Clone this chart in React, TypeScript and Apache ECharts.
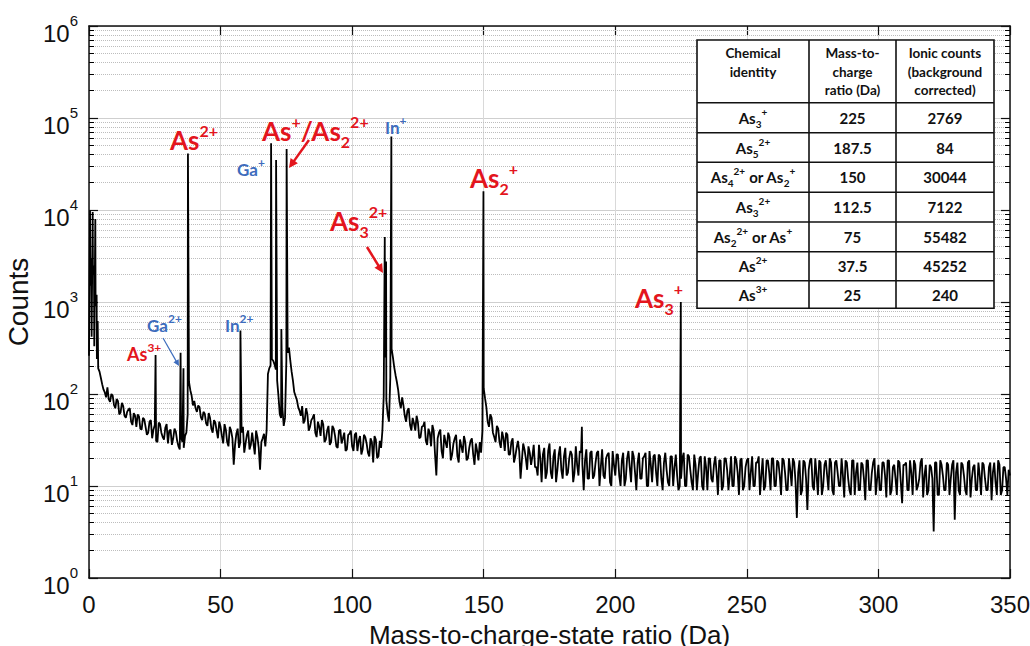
import React, { useEffect, useRef } from 'react';
import * as echarts from 'echarts';

// Background spectrum sampled at whole Da, 0 .. 350 Da (counts)
const bgStartMass = 0;
const bgStepMass = 1;
const bgCounts: number[] = [
  260, 420, 330, 240, 175, 128, 104, 118, 82, 96,
  70, 84, 63, 74, 55, 68, 50, 62, 44, 57,
  41, 53, 36, 50, 33, 46, 30, 47, 34, 43,
  29, 41, 33, 39, 27, 34, 26, 38, 135, 96,
  84, 64, 72, 52, 61, 45, 55, 38, 49, 33,
  44, 29, 41, 27, 40, 17, 37, 26, 38, 23,
  36, 25, 38, 22, 34, 15, 33, 27, 165, 205,
  230, 185, 95, 55, 45, 230, 320, 175, 105, 86,
  66, 74, 52, 60, 44, 55, 38, 50, 35, 47,
  32, 45, 30, 42, 27, 40, 29, 38, 25, 37,
  27, 36, 24, 35, 25, 34, 23, 33, 18, 32,
  21, 26, 95, 85, 50, 310, 195, 135, 82, 92,
  58, 66, 46, 55, 40, 49, 34, 45, 31, 42,
  27, 40, 13, 38, 24, 36, 26, 34, 22, 33,
  21, 32, 23, 30, 20, 31, 22, 29, 19, 23,
  115, 72, 44, 55, 34, 45, 30, 39, 24, 36,
  22, 33, 21, 31, 12, 29, 20, 27, 17, 28,
  16, 28, 11, 26, 14, 29, 12, 25, 15, 27,
  12, 26, 14, 24, 11, 27, 13, 23, 9, 25,
  12, 24, 13, 23, 10, 25, 12, 22, 11, 24,
  13, 22, 10, 23, 12, 24, 11, 21, 9, 23,
  12, 21, 10, 24, 11, 22, 10, 21, 9, 23,
  11, 21, 10, 22, 9, 12, 23, 10, 21, 11,
  22, 9, 20, 10, 21, 9, 20, 11, 21, 8,
  19, 10, 20, 9, 21, 10, 19, 8, 20, 10,
  19, 9, 21, 10, 18, 8, 20, 10, 19, 9,
  20, 10, 18, 8, 19, 9, 20, 10, 18, 4.5,
  19, 9, 18, 5.5, 19, 10, 20, 8, 18, 10,
  19, 9, 18, 8, 19, 10, 20, 7.5, 18, 9,
  19, 8, 18, 9, 17, 7, 19, 9, 18, 8,
  17, 9, 18, 7.5, 19, 9, 17, 8, 18, 6.5,
  17, 9, 19, 8, 17, 10, 18, 7.5, 17, 9,
  16, 3.2, 18, 8, 17, 9, 18, 8, 17, 4.3,
  18, 8, 17, 9, 18, 7.5, 16, 9, 18, 8,
  17, 9, 16, 7, 18, 8, 17, 9, 16, 8,
  13,
];

// Background at the half-Da points 0.5 .. 349.5 (counts)
const bgHalfCounts: number[] = [
  1500, 2000, 900, 190, 150, 112, 92, 88, 100, 76,
  88, 60, 80, 58, 64, 70, 46, 58, 60, 42,
  55, 44, 38, 52, 41, 31, 49, 38, 32, 47,
  40, 28, 42, 31, 25, 30, 35, 60, 110, 75,
  70, 75, 56, 64, 48, 62, 42, 52, 40, 50,
  35, 47, 30, 44, 33, 28, 42, 30, 44, 29,
  40, 28, 29, 40, 26, 30, 37, 40, 190, 240,
  210, 140, 60, 70, 55, 280, 230, 140, 95, 72,
  58, 48, 70, 40, 52, 60, 34, 44, 52, 30,
  40, 28, 45, 35, 26, 41, 33, 24, 36, 40,
  24, 38, 31, 22, 36, 29, 21, 30, 35, 20,
  31, 40, 250, 60, 150, 250, 160, 110, 70, 75,
  50, 70, 40, 48, 58, 33, 44, 50, 28, 38,
  46, 22, 33, 41, 20, 30, 38, 19, 29, 36,
  18, 27, 35, 19, 26, 33, 17, 24, 30, 40,
  90, 50, 60, 38, 30, 42, 26, 33, 38, 22,
  30, 18, 26, 24, 19, 25, 15, 23, 21, 16,
  13, 20, 22, 12, 24, 14, 21, 11, 22, 15,
  21, 13, 20, 22, 14, 17, 24, 17, 19, 12,
  23, 12, 18, 24, 16, 13, 20, 23, 10, 17,
  22, 13, 19, 10, 20, 16, 24, 14, 18, 12,
  20, 23, 10, 17, 21, 14, 22, 12, 18, 15,
  10, 21, 16, 13, 10, 20, 10, 22, 15, 9,
  17, 14, 21, 9, 16, 20, 12, 17, 14, 19,
  9, 20, 15, 13, 10, 21, 14, 19, 9, 16,
  20, 14, 10, 18, 21, 13, 9, 19, 14, 20,
  10, 19, 13, 20, 14, 9, 15, 20, 11, 14,
  8, 19, 12, 15, 20, 9, 13, 19, 8, 17,
  13, 20, 9, 18, 14, 10, 13, 19, 12, 8,
  19, 14, 9, 18, 12, 19, 9, 14, 20, 12,
  9, 18, 13, 19, 8, 16, 12, 19, 11, 17,
  18, 9, 14, 19, 9, 12, 20, 13, 8, 17,
  12, 18, 8, 19, 13, 9, 17, 12, 19, 14,
  9, 18, 13, 8, 19, 12, 17, 9, 13, 18,
  12, 9, 18, 14, 11, 19, 8, 16, 12, 15,
];

// Peaks between the samples
const peakMass: number[] = [0.4, 0.9, 1.4, 1.9, 2.4, 2.9, 3.3, 25.3, 34.8, 35.9, 37.6, 57.55, 69.2, 71.1, 73.1, 75.1, 112.4, 112.9, 114.9, 149.9, 187.3, 224.9];
const peakCounts: number[] = [9800, 3000, 9500, 2500, 8000, 1200, 620, 265, 280, 190, 41000, 490, 53000, 35000, 510, 46000, 5100, 2750, 63000, 16000, 44, 1000];

// Axis ticks
const xTicks: number[] = [0, 50, 100, 150, 200, 250, 300, 350];
const yDecades: number[] = [1, 10, 100, 1000, 10000, 100000, 1000000];
const minorMultipliers: number[] = [2, 3, 4, 5, 6, 7, 8, 9];

// Table
const tableHeaders: string[] = ['Chemical\nidentity', 'Mass-to-\ncharge\nratio (Da)', 'Ionic counts\n(background\ncorrected)'];
const tableIdentity: string[] = [
  '{b|As}{s|3}{p|+}',
  '{b|As}{s|5}{p|2+}',
  '{b|As}{s|4}{p|2+}{b| or As}{s|2}{p|+}',
  '{b|As}{s|3}{p|2+}',
  '{b|As}{s|2}{p|2+}{b| or As}{p|+}',
  '{b|As}{p|2+}',
  '{b|As}{p|3+}',
];
const tableMass: string[] = ['225', '187.5', '150', '112.5', '75', '37.5', '25'];
const tableCounts: string[] = ['2769', '84', '30044', '7122', '55482', '45252', '240'];

const RED = '#e3151d';
const BLUE = '#3d6cbd';
const AXFONT = '"Liberation Sans", Arial, Helvetica, sans-serif';
const CAL = 'Lato, "Open Sans", sans-serif';

const annotations = [
  { text: '{b|As}{p|2+}', x: 170, y: 140, color: RED, size: 26, small: 16, lead: 10 },
  { text: '{b|As}{p|+}{b|/As}{s|2}{p|2+}', x: 262, y: 131, color: RED, size: 26, small: 16, lead: 10 },
  { text: '{b|Ga}{p|+}', x: 237, y: 169, color: BLUE, size: 17, small: 12, lead: 8 },
  { text: '{b|In}{p|+}', x: 385, y: 127, color: BLUE, size: 17, small: 12, lead: 8 },
  { text: '{b|As}{s|2}{p|+}', x: 470, y: 178, color: RED, size: 26, small: 16, lead: 10 },
  { text: '{b|As}{s|3}{p|2+}', x: 330, y: 221, color: RED, size: 26, small: 16, lead: 10 },
  { text: '{b|As}{s|3}{p|+}', x: 635, y: 298, color: RED, size: 26, small: 16, lead: 10 },
  { text: '{b|Ga}{p|2+}', x: 147, y: 325, color: BLUE, size: 17, small: 12, lead: 8 },
  { text: '{b|In}{p|2+}', x: 225, y: 325, color: BLUE, size: 17, small: 12, lead: 8 },
  { text: '{b|As}{p|3+}', x: 127, y: 354, color: RED, size: 18, small: 12, lead: 8 },
];

const arrows = [
  { x1: 309, y1: 140, x2: 289, y2: 168, color: RED, width: 2.5, head: 9 },
  { x1: 367, y1: 247, x2: 383, y2: 273, color: RED, width: 2.5, head: 9 },
  { x1: 163, y1: 338, x2: 179, y2: 366, color: BLUE, width: 1.2, head: 6 },
];

function richFor(color: string, size: number, small: number, lead: number) {
  const common = { fontFamily: CAL, fontWeight: 'bold', fill: color };
  return {
    b: { ...common, fontSize: size, lineHeight: size + lead },
    p: { ...common, fontSize: small, lineHeight: small, verticalAlign: 'top' },
    s: { ...common, fontSize: small, lineHeight: small, verticalAlign: 'bottom' },
  };
}

function arrowElems(a: any) {
  const dx = a.x2 - a.x1;
  const dy = a.y2 - a.y1;
  const len = Math.sqrt(dx * dx + dy * dy);
  const ux = dx / len;
  const uy = dy / len;
  const px = -uy;
  const py = ux;
  const bx = a.x2 - ux * a.head;
  const by = a.y2 - uy * a.head;
  return [
    {
      type: 'line', z: 110, silent: true,
      shape: { x1: a.x1, y1: a.y1, x2: a.x2 - ux * a.head * 0.7, y2: a.y2 - uy * a.head * 0.7 },
      style: { stroke: a.color, lineWidth: a.width },
    },
    {
      type: 'polygon', z: 110, silent: true,
      shape: { points: [[a.x2, a.y2], [bx + px * a.head * 0.5, by + py * a.head * 0.5], [bx - px * a.head * 0.5, by - py * a.head * 0.5]] },
      style: { fill: a.color },
    },
  ];
}

function textStyle(extra: any) {
  return { textAlign: 'center', textVerticalAlign: 'middle', align: 'center', verticalAlign: 'middle', ...extra };
}

export default function App() {
  const ref = useRef<HTMLDivElement>(null);
  useEffect(() => {
    const chart = echarts.init(ref.current!, null, { renderer: 'svg' });

    const spectrum: number[][] = bgCounts
      .map((c, i) => [bgStartMass + bgStepMass * i, c])
      .concat(bgHalfCounts.map((c, i) => [bgStartMass + bgStepMass * (i + 0.5), c]))
      .concat(peakMass.map((m, i) => [m, peakCounts[i]]))
      .sort((a, b) => a[0] - b[0]);

    const minorValues: number[] = [];
    yDecades.slice(0, -1).forEach((d) => minorMultipliers.forEach((m) => minorValues.push(d * m)));

    const xMin = xTicks[0];
    const xMax = xTicks[xTicks.length - 1];
    const tickSpan = 1.9;

    const markData: any[] = [];
    minorValues.forEach((v) => markData.push({ yAxis: v }));
    minorValues.forEach((v) => {
      markData.push([
        { coord: [xMin, v], lineStyle: { type: 'solid', color: '#000', width: 1 } },
        { coord: [xMin + tickSpan, v] },
      ]);
      markData.push([
        { coord: [xMax - tickSpan, v], lineStyle: { type: 'solid', color: '#000', width: 1 } },
        { coord: [xMax, v] },
      ]);
    });

    // Table graphics
    const colX = [697, 809, 896, 994];
    const rowY = [40, 102.7, 132.7, 162.3, 192.3, 222, 251.7, 280.7, 308.3];
    const tableEls: any[] = [];
    tableEls.push({
      type: 'rect', z: 100, silent: true,
      shape: { x: colX[0], y: rowY[0], width: colX[3] - colX[0], height: rowY[rowY.length - 1] - rowY[0] },
      style: { fill: '#fff', stroke: '#111', lineWidth: 1.6 },
    });
    [colX[1], colX[2]].forEach((x) => tableEls.push({
      type: 'line', z: 101, silent: true,
      shape: { x1: x, y1: rowY[0], x2: x, y2: rowY[rowY.length - 1] },
      style: { stroke: '#111', lineWidth: 1.6 },
    }));
    rowY.slice(1, -1).forEach((y) => tableEls.push({
      type: 'line', z: 101, silent: true,
      shape: { x1: colX[0], y1: y, x2: colX[3], y2: y },
      style: { stroke: '#111', lineWidth: 1.6 },
    }));
    const headerY = [62.5, 71.5, 71.5];
    tableHeaders.forEach((h, i) => tableEls.push({
      type: 'text', z: 102, silent: true,
      x: (colX[i] + colX[i + 1]) / 2, y: headerY[i],
      style: textStyle({ text: h, fill: '#111', fontFamily: CAL, fontWeight: 'bold', fontSize: 13.5, lineHeight: 18.5 }),
    }));
    const cellRich = richFor('#111', 15, 10, 7);
    for (let r = 0; r < tableMass.length; r++) {
      const cy = (rowY[r + 1] + rowY[r + 2]) / 2;
      const cells = [tableIdentity[r], '{b|' + tableMass[r] + '}', '{b|' + tableCounts[r] + '}'];
      cells.forEach((t, c) => tableEls.push({
        type: 'text', z: 102, silent: true,
        x: (colX[c] + colX[c + 1]) / 2, y: cy,
        style: textStyle({ text: t, rich: cellRich, fill: '#111', fontFamily: CAL, fontWeight: 'bold', fontSize: 15 }),
      }));
    }

    const annoEls: any[] = annotations.map((a) => ({
      type: 'text', z: 110, silent: true, x: a.x, y: a.y,
      style: {
        text: a.text, rich: richFor(a.color, a.size, a.small, a.lead), fill: a.color,
        fontFamily: CAL, fontWeight: 'bold', fontSize: a.size,
        textAlign: 'left', align: 'left', textVerticalAlign: 'middle', verticalAlign: 'middle',
      },
    }));
    const arrowEls: any[] = [];
    arrows.forEach((a) => arrowElems(a).forEach((e) => arrowEls.push(e)));

    const option: any = {
      animation: false,
      backgroundColor: '#fff',
      grid: { left: 89, right: 20, top: 26, bottom: 68, containLabel: false, outerBoundsMode: 'none' },
      xAxis: [
        {
          type: 'value', min: xMin, max: xMax, interval: 50,
          axisLine: { onZero: false, lineStyle: { color: '#111', width: 1.5 } },
          axisTick: { inside: true, length: 9, lineStyle: { color: '#111', width: 1.2 } },
          axisLabel: { fontSize: 24, color: '#111', fontFamily: AXFONT, margin: 14 },
          splitLine: { show: true, lineStyle: { color: '#d9d9d9', width: 1 } },
          name: 'Mass-to-charge-state ratio (Da)', nameLocation: 'middle', nameGap: 33,
          nameTextStyle: { fontSize: 26, lineHeight: 28, color: '#111', fontFamily: AXFONT },
        },
        {
          type: 'value', min: xMin, max: xMax, interval: 50, position: 'top',
          axisLine: { onZero: false, lineStyle: { color: '#111', width: 1.5 } },
          axisTick: { inside: true, length: 9, lineStyle: { color: '#111', width: 1.2 } },
          axisLabel: { show: false }, splitLine: { show: false },
        },
      ],
      yAxis: [
        {
          type: 'log', logBase: 10, min: yDecades[0], max: yDecades[yDecades.length - 1], splitNumber: 6,
          axisLine: { onZero: false, lineStyle: { color: '#111', width: 1.5 } },
          axisTick: { inside: true, length: 9, lineStyle: { color: '#111', width: 1.2 } },
          axisLabel: {
            margin: 11, padding: [14, 0, 0, 0],
            formatter: (v: number) => '{b|10}{p|' + Math.round(Math.log10(v)) + '}',
            rich: {
              b: { fontSize: 24, lineHeight: 40, color: '#111', fontFamily: AXFONT },
              p: { fontSize: 15, lineHeight: 15, color: '#111', fontFamily: AXFONT, verticalAlign: 'top' },
            },
          },
          splitLine: { show: true, lineStyle: { color: '#cfcfcf', width: 1 } },
          name: 'Counts', nameLocation: 'middle', nameGap: 53,
          nameTextStyle: { fontSize: 28, color: '#111', fontFamily: AXFONT },
        },
        {
          type: 'log', logBase: 10, min: yDecades[0], max: yDecades[yDecades.length - 1], splitNumber: 6, position: 'right',
          axisLine: { onZero: false, lineStyle: { color: '#111', width: 1.5 } },
          axisTick: { inside: true, length: 9, lineStyle: { color: '#111', width: 1.2 } },
          axisLabel: { show: false }, splitLine: { show: false },
        },
      ],
      series: [
        {
          type: 'line', data: spectrum, xAxisIndex: 0, yAxisIndex: 0,
          showSymbol: false, symbol: 'none',
          lineStyle: { color: '#000', width: 1.8 }, z: 5,
          markLine: {
            silent: true, symbol: ['none', 'none'], label: { show: false },
            lineStyle: { type: 'dotted', color: '#bdbdbd', width: 1 },
            emphasis: { disabled: true },
            data: markData, z: 1,
          },
        },
      ],
      graphic: [...tableEls, ...annoEls, ...arrowEls],
    };
    chart.setOption(option);
    return () => chart.dispose();
  }, []);
  return <div ref={ref} style={{ position: 'fixed', left: 0, top: 0, width: 1030, height: 646, background: '#fff' }} />;
}
